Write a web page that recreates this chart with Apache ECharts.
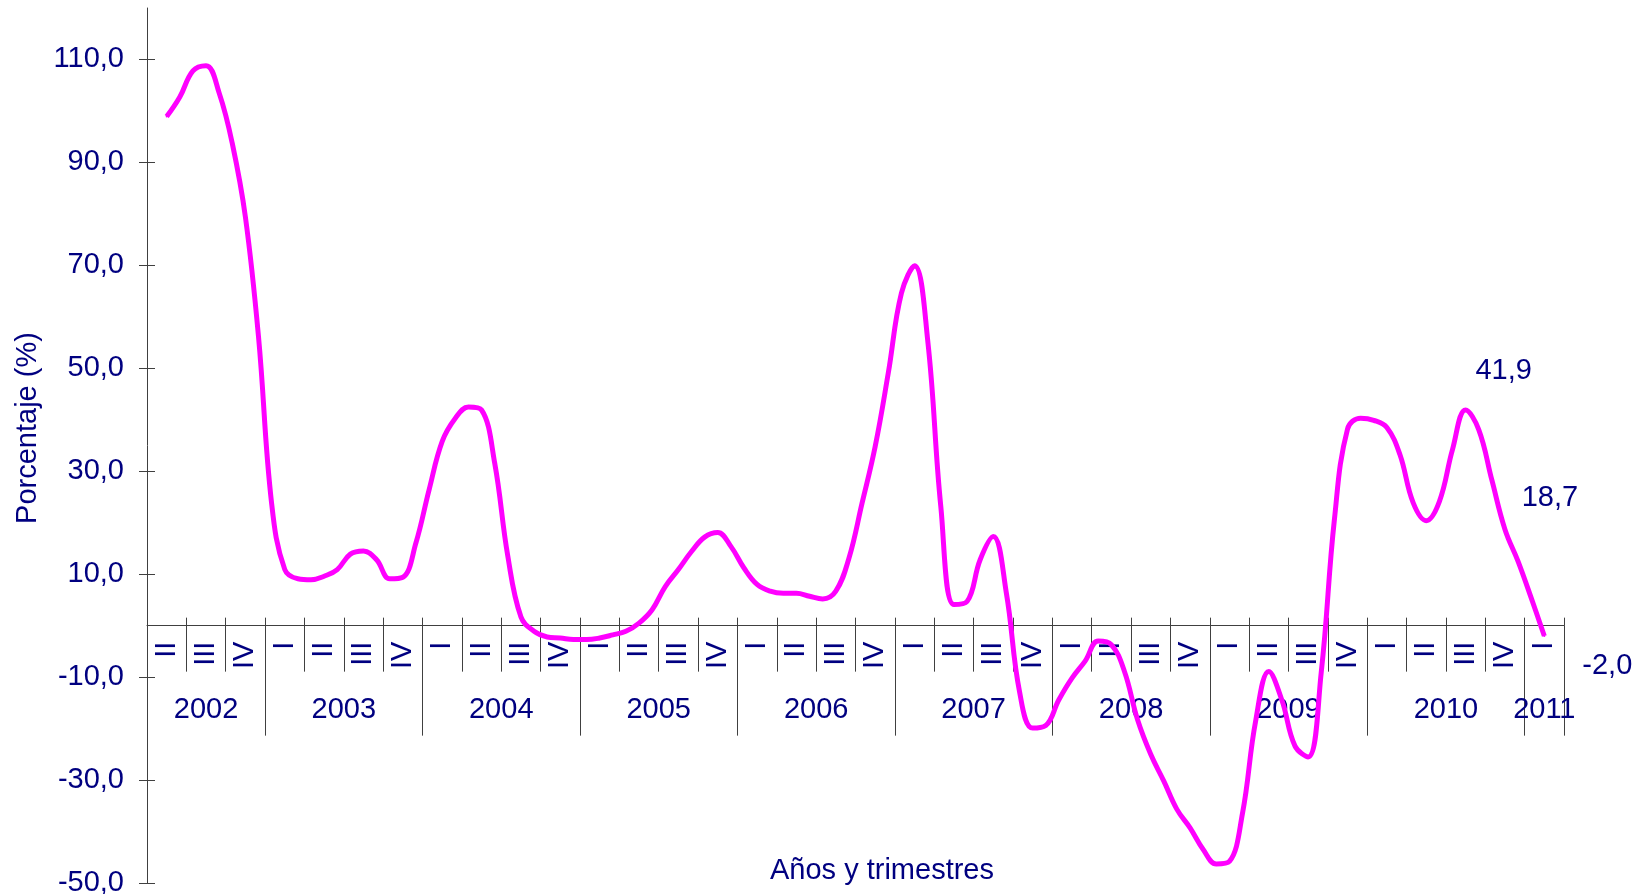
<!DOCTYPE html>
<html>
<head>
<meta charset="utf-8">
<title>Porcentaje por años y trimestres</title>
<script src="https://cdn.jsdelivr.net/npm/echarts@6/dist/echarts.min.js"></script>
<style>
  html, body { margin: 0; padding: 0; background: #fff; }
  #chart { width: 1639px; height: 894px; }
</style>
</head>
<body>
<div id="chart"></div>
<script>
const NAVY = '#000080';
const AXIS = '#404040';
const FONT = '"Liberation Sans", Arial, sans-serif';
const FS = 29;

/* ---- data ---- */
const years = ['2002', '2003', '2004', '2005', '2006', '2007', '2008', '2009', '2010', '2011'];
const quartersPerYear = [3, 4, 4, 4, 4, 4, 4, 4, 4, 1];
const trimestres = [
  'II', 'III', 'IV',
  'I', 'II', 'III', 'IV',
  'I', 'II', 'III', 'IV',
  'I', 'II', 'III', 'IV',
  'I', 'II', 'III', 'IV',
  'I', 'II', 'III', 'IV',
  'I', 'II', 'III', 'IV',
  'I', 'II', 'III', 'IV',
  'I', 'II', 'III', 'IV',
  'I'
];

// monthly values, Apr 2002 .. Mar 2011 (quarter value sits on the middle month)
const valores = [
  null, 98.9, 102.7, 107.8, 108.8, 103.5, 93.7, 79.4, 56.1, 23.7,
  10.9, 9.1, 8.9, 9.6, 10.9, 13.9, 14.5, 12.8, 9.1, 9.4,
  16.1, 26.4, 35.8, 40.3, 42.5, 41.9, 31.6, 13.5, 1.7, -1.1,
  -2.2, -2.4, -2.7, -2.7, -2.4, -1.8, -1.1, 0.5, 3.1, 7.6,
  10.9, 14.4, 17.2, 18.1, 15.4, 11.2, 8.0, 6.7, 6.3, 6.3,
  5.7, 5.2, 6.7, 13.1, 23.8, 34.8, 49.1, 64.6, 69.9, 55.5,
  23.2, 4.1, 4.7, 12.8, 17.3, 6.3, -12.8, -19.9, -19.4, -14.4,
  -10.2, -6.9, -3.0, -3.7, -8.9, -18.3, -25.0, -30.2, -35.7, -39.3,
  -43.5, -46.3, -45.8, -36.4, -18.5, -8.9, -14.5, -23.4, -25.5, -9.0,
  20.6, 38.2, 40.3, 39.9, 38.5, 33.2, 23.9, 20.4, 24.1, 34.2,
  41.9, 38.1, 28.3, 18.7, 12.5, 5.4, -2.0, null
];

const yMin = -50;
const yMax = 120;
const yTicks = [-50, -30, -10, 10, 30, 50, 70, 90, 110];

// labelled points: index -> label offset
const etiquetas = { 100: [39, -38], 103: [46, -30], 106: [64, 31] };

/* ---- layout ---- */
const GRID = { left: 147, right: 75, top: 8, bottom: 11 };
const plotH = 894 - GRID.top - GRID.bottom;
// x axes sit on the zero line
const zeroOffset = -plotH * (0 - yMin) / (yMax - yMin);

/* ---- derived axes helpers ---- */
const meses = valores.map((v, i) => {
  const y = 2002 + Math.floor((3 + i) / 12);
  const m = ((3 + i) % 12) + 1;
  return y + '-' + String(m).padStart(2, '0');
});

const yearBounds = [0];
quartersPerYear.forEach(n => yearBounds.push(yearBounds[yearBounds.length - 1] + n));
const yearCenters = years.map((y, i) => (yearBounds[i] + yearBounds[i + 1]) / 2);

const fmt = v => v.toFixed(1).replace('.', ',');

const chart = echarts.init(document.getElementById('chart'));

chart.setOption({
  animation: false,
  backgroundColor: '#fff',
  textStyle: { fontFamily: FONT },
  grid: { left: GRID.left, right: GRID.right, top: GRID.top, bottom: GRID.bottom, containLabel: false, outerBoundsMode: 'none' },
  xAxis: [
    // monthly axis carrying the line (hidden)
    { type: 'category', data: meses, boundaryGap: true, show: false },
    // quarter labels + ticks below
    {
      type: 'category', data: trimestres, boundaryGap: true, position: 'bottom', offset: zeroOffset,
      axisLine: { onZero: false, lineStyle: { color: AXIS, width: 1 } },
      axisTick: { show: true, interval: 0, length: 46, lineStyle: { color: AXIS } },
      axisLabel: { interval: 0, rotate: 90, margin: 16, color: NAVY, fontSize: FS, fontFamily: FONT }
    },
    // quarter ticks above the line
    {
      type: 'category', data: trimestres, boundaryGap: true, position: 'bottom', offset: zeroOffset,
      axisLine: { show: false, onZero: false },
      axisTick: { show: true, interval: 0, inside: true, length: 8, lineStyle: { color: AXIS } },
      axisLabel: { show: false }
    },
    // years
    {
      type: 'value', min: 0, max: 36, position: 'bottom', offset: zeroOffset,
      splitLine: { show: false },
      axisLine: { show: false, onZero: false },
      axisTick: { show: true, length: 110, customValues: yearBounds, lineStyle: { color: AXIS } },
      axisLabel: {
        customValues: yearCenters, margin: 70, color: NAVY, fontSize: FS, fontFamily: FONT,
        formatter: v => years[yearCenters.indexOf(v)] || ''
      }
    }
  ],
  yAxis: [
    {
      type: 'value', min: yMin, max: yMax, position: 'left',
      splitLine: { show: false },
      axisLine: { show: true, onZero: false, lineStyle: { color: AXIS } },
      axisTick: { show: true, length: 8, customValues: yTicks, lineStyle: { color: AXIS } },
      axisLabel: { customValues: yTicks, margin: 23, color: NAVY, fontSize: FS, fontFamily: FONT, formatter: fmt }
    },
    {
      type: 'value', min: yMin, max: yMax, position: 'left',
      splitLine: { show: false },
      axisLine: { show: false, onZero: false },
      axisTick: { show: true, inside: true, length: 8, customValues: yTicks, lineStyle: { color: AXIS } },
      axisLabel: { show: false }
    }
  ],
  series: [{
    type: 'line',
    xAxisIndex: 0,
    yAxisIndex: 0,
    data: valores.map((v, i) => etiquetas[i] ? {
      value: v,
      label: {
        show: true, position: etiquetas[i], align: 'center', verticalAlign: 'middle',
        formatter: p => fmt(p.value), color: NAVY, fontSize: FS, fontFamily: FONT
      }
    } : v),
    smooth: 0.4,
    connectNulls: false,
    symbol: 'circle',
    symbolSize: 2,
    showSymbol: true,
    showAllSymbol: true,
    itemStyle: { color: '#FF00FF' },
    lineStyle: { color: '#FF00FF', width: 5 },
    label: { show: false },
    z: 5
  }],
  graphic: [
    {
      type: 'text', x: 28, y: 428, rotation: Math.PI / 2,
      style: { text: 'Porcentaje (%)', fill: NAVY, font: FS + 'px ' + FONT, textAlign: 'center', textVerticalAlign: 'middle' }
    },
    {
      type: 'text', x: 882, y: 871,
      style: { text: 'Años y trimestres', fill: NAVY, font: FS + 'px ' + FONT, textAlign: 'center', textVerticalAlign: 'middle' }
    }
  ]
});
</script>
</body>
</html>
